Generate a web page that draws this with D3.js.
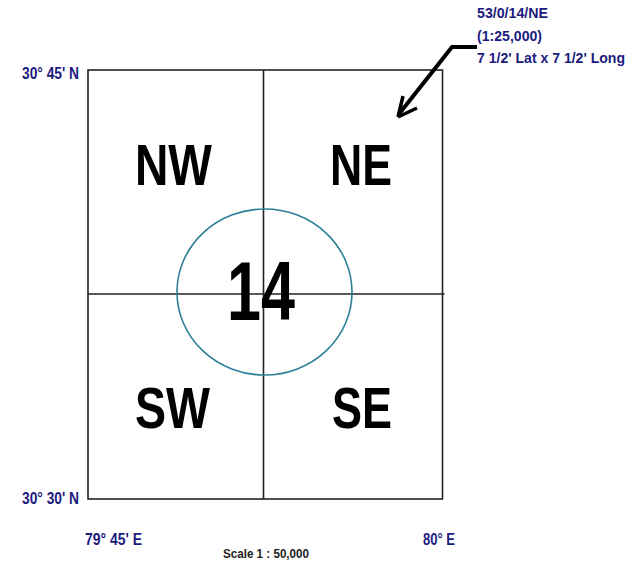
<!DOCTYPE html>
<html><head><meta charset="utf-8">
<script src="https://cdn.jsdelivr.net/npm/d3@7/dist/d3.min.js"></script>
<style>html,body{margin:0;padding:0;background:#fff;}svg{display:block;}</style>
</head><body>
<svg id="c" width="644" height="573"></svg>
<script>
// ---- data ----
const lonDomain = [79.75, 80.0];
const latDomain = [30.5, 30.75];
const latTicks = [30.75, 30.5];
const latLabels = ["30\u00b0 45' N", "30\u00b0 30' N"];
const lonTicks = [79.75, 80.0];
const lonLabels = ["79\u00b0 45' E", "80\u00b0 E"];
const quadrantNames = ["NW", "NE", "SW", "SE"];
const sheetNumber = "14";
const calloutLines = ["53/0/14/NE", "(1:25,000)", "7 1/2' Lat x 7 1/2' Long"];
const scaleText = "Scale 1 : 50,000";

// ---- layout ----
const svg = d3.select("#c");
const x = d3.scaleLinear().domain(lonDomain).range([88, 442.5]);
const y = d3.scaleLinear().domain(latDomain).range([499, 70]);
const midX = 263.5, midY = 294;
const blue = "#1b1b7e";
const font = "'Liberation Sans', Arial, Helvetica, sans-serif";

// frame
svg.append("rect").attr("x", x(lonDomain[0])).attr("y", y(latDomain[1]))
  .attr("width", x(lonDomain[1]) - x(lonDomain[0])).attr("height", y(latDomain[0]) - y(latDomain[1]))
  .attr("fill", "none").attr("stroke", "#222").attr("stroke-width", 1.6);
// dividers
svg.append("line").attr("x1", midX).attr("x2", midX).attr("y1", y(latDomain[1])).attr("y2", y(latDomain[0]))
  .attr("stroke", "#222").attr("stroke-width", 1.6);
svg.append("line").attr("x1", x(lonDomain[0])).attr("x2", x(lonDomain[1]) + 2).attr("y1", midY).attr("y2", midY)
  .attr("stroke", "#222").attr("stroke-width", 1.6);

// circle
svg.append("ellipse").attr("cx", 264.5).attr("cy", 292).attr("rx", 87.5).attr("ry", 83)
  .attr("fill", "none").attr("stroke", "#2c7f98").attr("stroke-width", 1.6);

// quadrant labels
const qPos = [[135, 185, 77], [330, 185, 62], [135, 428, 75], [332, 428, 60]];
svg.selectAll("text.q").data(quadrantNames).join("text").attr("class", "q")
  .attr("x", (d, i) => qPos[i][0]).attr("y", (d, i) => qPos[i][1])
  .attr("textLength", (d, i) => qPos[i][2]).attr("lengthAdjust", "spacingAndGlyphs")
  .attr("font-family", font).attr("font-weight", "bold").attr("font-size", 58).attr("fill", "#000")
  .text(d => d);

// number
svg.append("text").attr("x", 227).attr("y", 320).attr("textLength", 68).attr("lengthAdjust", "spacingAndGlyphs")
  .attr("font-family", font).attr("font-weight", "bold").attr("font-size", 84).attr("fill", "#000")
  .text(sheetNumber);

function degLabel(sel, txt, xx, yy, len) {
  sel.append("text").attr("x", xx).attr("y", yy)
    .attr("textLength", len).attr("lengthAdjust", "spacingAndGlyphs")
    .attr("font-family", font).attr("font-weight", "bold").attr("font-size", 16).attr("fill", blue)
    .text(txt);
}
// latitude labels
latTicks.forEach((v, i) => degLabel(svg, latLabels[i], 22, y(v) + (i === 0 ? 9 : 5), 57));
// longitude labels
const lonOff = [[-3, 57], [-19.5, 32]];
lonTicks.forEach((v, i) => degLabel(svg, lonLabels[i], x(v) + lonOff[i][0], 545, lonOff[i][1]));

// scale text
svg.append("text").attr("x", 223).attr("y", 558).attr("textLength", 86).attr("lengthAdjust", "spacingAndGlyphs")
  .attr("font-family", font).attr("font-weight", "bold").attr("font-size", 12).attr("fill", "#222")
  .text(scaleText);

// callout
const cLens = [71, 65, 148];
svg.selectAll("text.c").data(calloutLines).join("text").attr("class", "c")
  .attr("x", 477).attr("y", (d, i) => 18 + i * 22.5)
  .attr("textLength", (d, i) => cLens[i]).attr("lengthAdjust", "spacingAndGlyphs")
  .attr("font-family", font).attr("font-weight", "bold").attr("font-size", 15).attr("fill", blue)
  .text(d => d);

// arrow
svg.append("path").attr("d", "M477,47 L452,47 L399,114")
  .attr("fill", "none").attr("stroke", "#000").attr("stroke-width", 4).attr("stroke-linejoin", "miter");
svg.append("path").attr("d", "M398,117 L403,96 M398,117 L417,108")
  .attr("fill", "none").attr("stroke", "#000").attr("stroke-width", 3.5).attr("stroke-linecap", "butt");
</script>
</body></html>
